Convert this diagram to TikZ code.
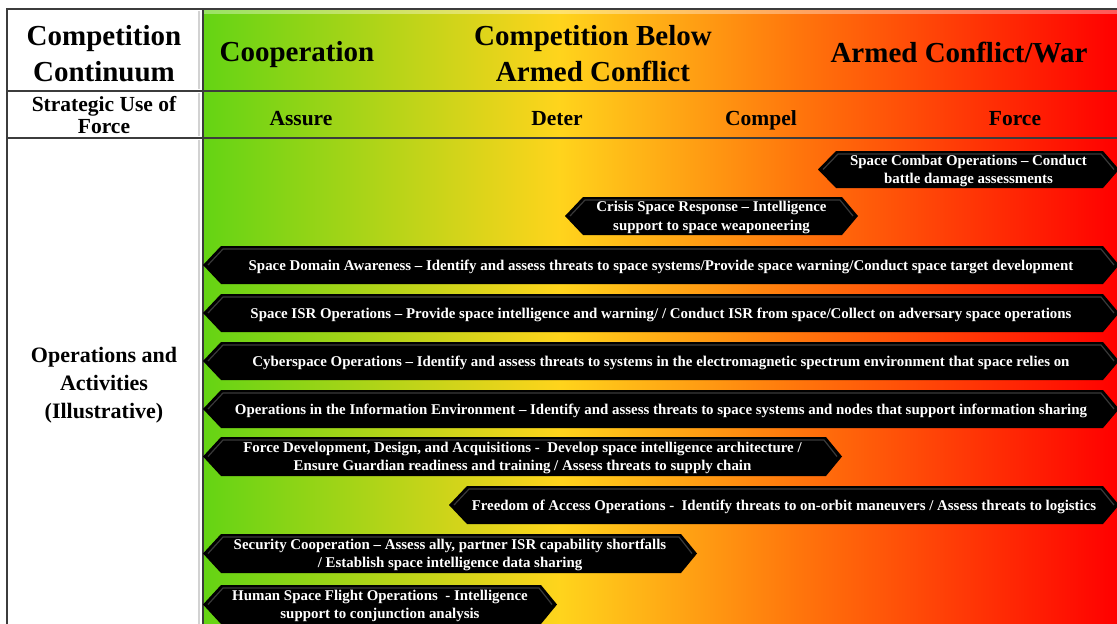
\documentclass[tikz,border=0pt]{standalone}
\usepackage{fontspec}
\setmainfont{Liberation Serif}
\definecolor{cgreen}{RGB}{100,212,20}
\definecolor{cyellow}{RGB}{255,212,28}
\definecolor{corange}{RGB}{255,118,12}
\definecolor{cred}{RGB}{255,0,0}
\definecolor{gridc}{RGB}{60,60,60}
\pgfdeclarehorizontalshading{contin}{100bp}{color(0bp)=(cgreen); color(25bp)=(cgreen); color(44.5bp)=(cyellow); color(57.5bp)=(corange); color(75bp)=(cred); color(100bp)=(cred)}
\tikzset{
  hdr/.style={font=\fontsize{29}{36}\selectfont\bfseries, align=center, inner sep=0pt},
  sub/.style={font=\fontsize{21.5}{22}\selectfont\bfseries, align=center, inner sep=0pt},
  side/.style={font=\fontsize{22}{28}\selectfont\bfseries, align=center, inner sep=0pt},
  bartext/.style={font=\fontsize{14.9}{18.5}\selectfont\bfseries, text=white, align=center, inner sep=0pt},
  barfill/.style={fill=black},
  barglow/.style={draw=gray!45!black, line width=1.2pt, line join=round},
  gridline/.style={draw=gridc, line width=2pt},
}
\newcommand\opbar[6]{%
  \fill[barfill] (#2,{(#4+#5)/2}) -- (#2+18,#4) -- (#3-16,#4) -- (#3,{(#4+#5)/2}) -- (#3-16,#5) -- (#2+18,#5) -- cycle;
  \draw[barglow] (#2+5,{(#4+#5)/2}) -- (#2+20,#4+3) -- (#3-18,#4+3) -- (#3-5,{(#4+#5)/2});
  \node[bartext] (#1) at ({(#2+#3)/2},{(#4+#5)/2+1.5}) {#6};
}
\begin{document}
\begin{tikzpicture}[x=1pt,y=-1pt]
\useasboundingbox (0,0) rectangle (1117,624);
% backgrounds
\fill[white] (7,9) rectangle (203,624);
\shade[shading=contin] (203,9) rectangle (1117,624);
\fill[white, opacity=0.35] (203,10) rectangle (1117,14);
\draw[gray!35, line width=2pt] (199,11) -- (199,89);
\draw[gray!35, line width=2pt] (199,93) -- (199,136);
\draw[gray!35, line width=2pt] (199,140) -- (199,624);
% grid
\draw[gridline] (7,624) -- (7,9) -- (1117,9);
\draw[gridline] (7,91) -- (1117,91);
\draw[gridline] (7,138) -- (1117,138);
\draw[gridline] (203,9) -- (203,624);
% headers
\node[hdr] (cc) at (104,54) {Competition\\Continuum};
\node[hdr, anchor=base] (coop) at (297,61) {Cooperation};
\node[hdr] (cbac) at (593,54) {Competition Below\\Armed Conflict};
\node[hdr, anchor=base] (acw) at (959,62) {Armed Conflict/War};
\node[sub] (suf) at (104,115) {Strategic Use of\\Force};
\node[sub, anchor=base] (assure) at (301,125) {Assure};
\node[sub, anchor=base] (deter) at (557,125) {Deter};
\node[sub, anchor=base] (compel) at (761,125) {Compel};
\node[sub, anchor=base] (force) at (1015,125) {Force};
\node[side] (oa) at (104,385) {Operations and\\Activities\\(Illustrative)};
% bars
\opbar{combat}{818}{1119}{151}{188}{Space Combat Operations – Conduct\\battle damage assessments}
\opbar{crisis}{565}{858}{197}{235}{Crisis Space Response – Intelligence\\support to space weaponeering}
\opbar{sda}{203}{1119}{246}{284}{Space Domain Awareness – Identify and assess threats to space systems/Provide space warning/Conduct space target development}
\opbar{isr}{203}{1119}{294}{332}{Space ISR Operations – Provide space intelligence and warning/ / Conduct ISR from space/Collect on adversary space operations}
\opbar{cyber}{203}{1119}{342}{380}{Cyberspace Operations – Identify and assess threats to systems in the electromagnetic spectrum environment that space relies on}
\opbar{oie}{203}{1119}{390}{428}{Operations in the Information Environment – Identify and assess threats to space systems and nodes that support information sharing}
\opbar{fdda}{203}{842}{437}{476}{Force Development, Design, and Acquisitions -\ \ Develop space intelligence architecture /\\Ensure Guardian readiness and training / Assess threats to supply chain}
\opbar{foa}{449}{1119}{486}{524}{Freedom of Access Operations -\ \ Identify threats to on-orbit maneuvers / Assess threats to logistics}
\opbar{sc}{203}{697}{534}{573}{Security Cooperation – Assess ally, partner ISR capability shortfalls\\/ Establish space intelligence data sharing}
\opbar{hsf}{203}{557}{585}{624}{Human Space Flight Operations\ \ - Intelligence\\support to conjunction analysis}
\end{tikzpicture}
\end{document}
